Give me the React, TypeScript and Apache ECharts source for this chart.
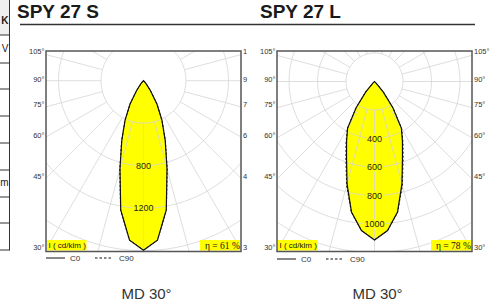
import React, { useEffect, useRef } from 'react';
import * as echarts from 'echarts';

// ---- data ----
const GAMMA = [0, 5, 10, 15, 20, 25, 30, 35, 40, 45, 50, 55, 60, 65, 70, 75, 80, 85, 90];
const S_C0 = [1595, 1507, 1235, 855, 597, 410, 253, 115, 40, 10, 0, 0, 0, 0, 0, 0, 0, 0, 0];
const S_C90 = [1595, 1507, 1240, 862, 603, 414, 255, 117, 41, 10, 0, 0, 0, 0, 0, 0, 0, 0, 0];
const L_C0 = [1112, 1050, 930, 744, 574, 464, 377, 225, 95, 18, 0, 0, 0, 0, 0, 0, 0, 0, 0];
const L_C90 = [1112, 1050, 933, 756, 587, 473, 381, 227, 96, 18, 0, 0, 0, 0, 0, 0, 0, 0, 0];
const S_RINGS = [400, 800, 1200, 1600, 2000];
const L_RINGS = [200, 400, 600, 800, 1000, 1200, 1400];
const S_RING_LABELS = [800, 1200];
const L_RING_LABELS = [400, 600, 800, 1000];
const SPOKES = [0, 15, 30, 45, 60, 75, 90, 105, 120, 135, 150, 165, 180, 195, 210, 225, 240, 255, 270, 285, 300, 315, 330, 345];
const ANGLE_LABELS = ['105°', '90°', '75°', '60°', '45°', '30°'];
const ANGLE_LABELS_CUT = ['1', '9', '7', '6', '4', '3'];
const TITLES = ['SPY 27 S', 'SPY 27 L'];
const ETA = ['η = 61 %', 'η = 78 %'];
const CAPTIONS = ['MD 30°', 'MD 30°'];
const LEGEND = ['C0', 'C90'];
const UNIT = 'I ( cd/klm )';
const TABLE_TEXT = ['K', 'V', 'm'];

// ---- layout ----
const SANS = '"Liberation Sans", Arial, sans-serif';
const SERIF = '"Liberation Serif", "Times New Roman", serif';
const FRAME_TOP = 51;
const FRAME_BOTTOM = 251.5;
const FRAME_W = 195;
const PANELS = [
  { left: 46, cy: 80.7, pxPerCd: 42.5 / 400, c0: S_C0, c90: S_C90, rings: S_RINGS, labels: S_RING_LABELS },
  { left: 277, cy: 81.5, pxPerCd: 28.5 / 200, c0: L_C0, c90: L_C90, rings: L_RINGS, labels: L_RING_LABELS },
];
const LABEL_Y = [51.8, 79.3, 104.5, 135, 176, 247.5];
const YELLOW = '#ffff00';
const GRIDC = '#d6d6d6';

function makeRender(p: any) {
  return (params: any, api: any) => {
    const o = api.coord([0, 0]);
    const ppu = api.size([1, 0])[0];
    const pt = (I: number, g: number, side: number) => {
      const rad = (g * Math.PI) / 180;
      return api.coord([side * I * Math.sin(rad), -I * Math.cos(rad)]);
    };
    const poly = (vals: number[]) => {
      const right = GAMMA.map((g, i) => pt(vals[i], g, 1));
      const left = GAMMA.map((g, i) => pt(vals[i], g, -1)).reverse();
      return right.concat(left);
    };
    const children: any[] = [];
    children.push({ type: 'polygon', z2: 0, shape: { points: poly(p.c90) }, style: { fill: YELLOW } });
    children.push({ type: 'polygon', z2: 0, shape: { points: poly(p.c0) }, style: { fill: YELLOW } });
    p.rings.forEach((r: number) => {
      children.push({
        type: 'circle', z2: 1,
        shape: { cx: o[0], cy: o[1], r: r * ppu },
        style: { fill: 'none', stroke: GRIDC, lineWidth: 0.8 },
      });
    });
    const r0 = p.rings[0] * ppu;
    const r1 = 3000 * ppu;
    SPOKES.forEach((a: number) => {
      const rad = (a * Math.PI) / 180;
      const sx = Math.sin(rad);
      const sy = Math.cos(rad);
      children.push({
        type: 'line', z2: 1,
        shape: { x1: o[0] + r0 * sx, y1: o[1] + r0 * sy, x2: o[0] + r1 * sx, y2: o[1] + r1 * sy },
        style: { stroke: GRIDC, lineWidth: 0.8 },
      });
    });
    children.push({
      type: 'polygon', z2: 2, shape: { points: poly(p.c90) },
      style: { fill: 'none', stroke: '#111', lineWidth: 1, lineDash: [2, 2] },
    });
    children.push({
      type: 'polygon', z2: 3, shape: { points: poly(p.c0) },
      style: { fill: 'none', stroke: '#111', lineWidth: 1.2 },
    });
    p.labels.forEach((v: number) => {
      children.push({
        type: 'text', z2: 4, x: o[0], y: o[1] + v * ppu,
        style: {
          text: String(v), fill: '#222', font: '9px ' + SANS,
          align: 'center', verticalAlign: 'middle', textAlign: 'center', textVerticalAlign: 'middle',
          backgroundColor: YELLOW, padding: [0, 1],
        },
      });
    });
    return { type: 'group', children };
  };
}

function txt(text: string, x: number, y: number, font: string, align = 'left', fill = '#222') {
  return {
    type: 'text', x, y, z: 50,
    style: { text, font, fill, align, verticalAlign: 'middle', textAlign: align, textVerticalAlign: 'middle' },
  };
}
function ln(x1: number, y1: number, x2: number, y2: number, stroke: string, lineWidth: number, dash?: number[]) {
  return { type: 'line', z: 40, shape: { x1, y1, x2, y2 }, style: { stroke, lineWidth, lineDash: dash } };
}
function rect(x: number, y: number, width: number, height: number, style: any, z = 45) {
  return { type: 'rect', z, shape: { x, y, width, height }, style };
}

export default function App() {
  const ref = useRef<HTMLDivElement>(null);
  useEffect(() => {
    if (!ref.current) return;
    const chart = echarts.init(ref.current, undefined, { renderer: 'svg', width: 495, height: 306 });
    const grids: any[] = [];
    const xAxes: any[] = [];
    const yAxes: any[] = [];
    const series: any[] = [];
    const g: any[] = [];

    PANELS.forEach((p, i) => {
      grids.push({ left: p.left, top: FRAME_TOP, width: FRAME_W, height: FRAME_BOTTOM - FRAME_TOP, show: false });
      const hx = FRAME_W / 2 / p.pxPerCd;
      xAxes.push({ gridIndex: i, type: 'value', min: -hx, max: hx, show: false });
      yAxes.push({
        gridIndex: i, type: 'value',
        min: -(FRAME_BOTTOM - p.cy) / p.pxPerCd, max: (p.cy - FRAME_TOP) / p.pxPerCd, show: false,
      });
      series.push({
        type: 'custom', coordinateSystem: 'cartesian2d', xAxisIndex: i, yAxisIndex: i,
        clip: true, silent: true, data: [[0, 0]], renderItem: makeRender(p),
      });

      const L = p.left;
      const R = p.left + FRAME_W;
      // frame
      g.push(rect(L, FRAME_TOP, FRAME_W, FRAME_BOTTOM - FRAME_TOP, { fill: 'none', stroke: '#555', lineWidth: 1.5 }, 48));
      // angle labels
      LABEL_Y.forEach((y, k) => {
        g.push(txt(ANGLE_LABELS[k], L - 1.5, y, '7.5px ' + SANS, 'right', '#333'));
        if (i === 1) g.push(txt(ANGLE_LABELS[k], R + 2, y, '7.5px ' + SANS, 'left', '#333'));
        else g.push(txt(ANGLE_LABELS_CUT[k], R + 2, y, '7.5px ' + SANS, 'left', '#333'));
      });
      // unit and efficiency boxes
      g.push(rect(L + 1, 240, 39.5, 10.5, { fill: YELLOW }));
      g.push(txt(UNIT, L + 2.5, 245.5, '8px ' + SANS, 'left', '#111'));
      g.push(rect(R - 41, 240, 40, 10.5, { fill: YELLOW }));
      g.push(txt(ETA[i], R - 36, 245.6, '9.5px ' + SERIF, 'left', '#111'));
      // legend
      const ly = i === 0 ? 258 : 259;
      g.push(ln(L, ly, L + 19, ly, '#111', 1));
      g.push(txt(LEGEND[0], L + 24, ly, '8px ' + SANS, 'left', '#333'));
      g.push(ln(L + 49, ly, L + 66, ly, '#111', 1, [2.5, 2]));
      g.push(txt(LEGEND[1], L + 73, ly, '8px ' + SANS, 'left', '#333'));
      // caption
      g.push(txt(CAPTIONS[i], L + 100.5, 293, '15px ' + SANS, 'center', '#333'));
    });

    // titles and rule
    g.push(txt(TITLES[0], 17, 11.8, 'bold 19px ' + SANS, 'left', '#1a1a1a'));
    g.push(txt(TITLES[1], 260, 11.8, 'bold 19px ' + SANS, 'left', '#1a1a1a'));
    g.push(ln(20, 24.5, 475, 24.5, '#333', 1.3));

    // table at the left edge
    g.push(rect(-1, 0, 10.5, 35, { fill: '#efefef' }, 30));
    [35, 63, 89, 116, 143, 170, 197, 223, 250].forEach((y) => g.push(ln(0, y, 9.5, y, '#333', 1)));
    g.push(ln(9.5, 0, 9.5, 250.5, '#333', 1));
    g.push(txt(TABLE_TEXT[0], 8.5, 20, 'bold 10px ' + SANS, 'right', '#222'));
    g.push(txt(TABLE_TEXT[1], 8.5, 48.5, '10px ' + SANS, 'right', '#222'));
    g.push(txt(TABLE_TEXT[2], 8.5, 182.5, '10px ' + SANS, 'right', '#222'));

    chart.setOption({
      animation: false,
      backgroundColor: '#ffffff',
      grid: grids,
      xAxis: xAxes,
      yAxis: yAxes,
      series,
      graphic: { elements: g },
    });
    return () => chart.dispose();
  }, []);
  return (
    <div
      ref={ref}
      style={{ position: 'fixed', left: 0, top: 0, width: 495, height: 306, background: '#fff' }}
    />
  );
}
